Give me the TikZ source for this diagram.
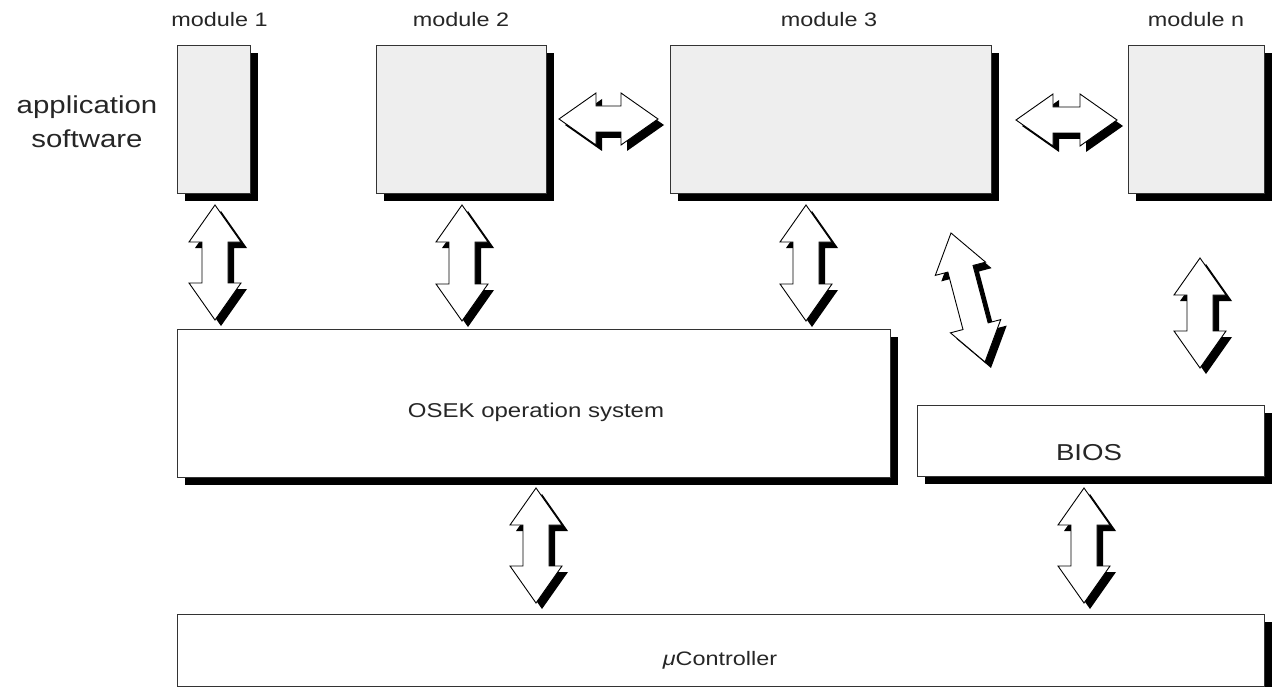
\documentclass[tikz,border=0pt]{standalone}
\usepackage{fontspec}
\setmainfont{Liberation Sans}[FakeStretch=1.2]
\usetikzlibrary{calc,shadows}
\definecolor{modfill}{HTML}{EEEEEE}
\definecolor{boxline}{HTML}{333333}
\newcommand\darrpoly{(0,0) -- (37,-26) -- (37,-13) -- ({\darrlen-37},-13) -- ({\darrlen-37},-26) -- (\darrlen,0) -- ({\darrlen-37},26) -- ({\darrlen-37},13) -- (37,13) -- (37,26) -- cycle}
\newcommand\darr[2]{%
  \path let \p1=($(#2)-(#1)$) in \pgfextra{%
    \pgfmathsetmacro\tmpang{atan2(\y1,\x1)}%
    \pgfmathsetmacro\tmplen{veclen(\x1,\y1)}%
    \global\let\darrang\tmpang \global\let\darrlen\tmplen};
  \fill[arrshadow, shift={(#1)}, xshift=6pt, yshift=-6pt, rotate=\darrang] \darrpoly;
  \filldraw[arrbody, shift={(#1)}, rotate=\darrang] \darrpoly;
}
\tikzset{
  box/.style={draw=boxline, line width=1.4pt, fill=white, inner sep=0pt, anchor=north west,
    drop shadow={shadow xshift=7.5pt, shadow yshift=-7.5pt, fill=black, opacity=1}},
  modbox/.style={box, fill=modfill},
  arrshadow/.style={fill=black},
  arrbody/.style={fill=white, draw=black, line width=0.9pt, line join=miter},
  txt/.style={anchor=base, inner sep=0pt, text=black!85},
  small/.style={txt, font=\fontsize{19.5}{23}\selectfont},
  apptxt/.style={txt, font=\fontsize{24.5}{28}\selectfont},
  osektxt/.style={txt, font=\fontsize{20}{24}\selectfont},
  biostxt/.style={txt, font=\fontsize{23}{27}\selectfont},
  uctxt/.style={txt, font=\fontsize{19.5}{23}\selectfont},
}
\begin{document}
\begin{tikzpicture}[x=1pt, y=-1pt]
\useasboundingbox[fill=white] (0,0) rectangle (1274,687);
% boxes
\node[modbox, minimum width=73pt, minimum height=148pt] (m1) at (177,45) {};
\node[modbox, minimum width=170pt, minimum height=148pt] (m2) at (376,45) {};
\node[modbox, minimum width=321pt, minimum height=148pt] (m3) at (670,45) {};
\node[modbox, minimum width=136pt, minimum height=148pt] (mn) at (1128,45) {};
\node[box, minimum width=713pt, minimum height=148pt] (osek) at (177,329) {};
\node[box, minimum width=347pt, minimum height=71pt] (bios) at (917,405) {};
\node[box, minimum width=1087pt, minimum height=72pt] (uc) at (177,614) {};
% labels
\node[small] (l1) at (219.5,27) {module 1};
\node[small] (l2) at (461,27) {module 2};
\node[small] (l3) at (829,27) {module 3};
\node[small] (ln) at (1196,27) {module n};
\node[apptxt] (app1) at (87,114) {application};
\node[apptxt] (app2) at (87,148) {software};
\node[osektxt] (tosek) at (536,417) {OSEK operation system};
\node[biostxt] (tbios) at (1089,460) {BIOS};
\node[uctxt] (tuc) at (720,665) {{\itshape μ}Controller};
% arrow end points
\coordinate (a1s) at (215,205); \coordinate (a1e) at (215,320);
\coordinate (a2s) at (462,205); \coordinate (a2e) at (462,321);
\coordinate (a3s) at (806,205); \coordinate (a3e) at (806,321);
\coordinate (a4s) at (951,233); \coordinate (a4e) at (985,362);
\coordinate (a5s) at (1200,258); \coordinate (a5e) at (1200,368);
\coordinate (a6s) at (536,488); \coordinate (a6e) at (536,603);
\coordinate (a7s) at (1084,488); \coordinate (a7e) at (1084,603);
\coordinate (h1s) at (559,119); \coordinate (h1e) at (658,119);
\coordinate (h2s) at (1016,120); \coordinate (h2e) at (1117,120);
\darr{a1s}{a1e}
\darr{a2s}{a2e}
\darr{a3s}{a3e}
\darr{a4s}{a4e}
\darr{a5s}{a5e}
\darr{a6s}{a6e}
\darr{a7s}{a7e}
\darr{h1s}{h1e}
\darr{h2s}{h2e}
\end{tikzpicture}
\end{document}
